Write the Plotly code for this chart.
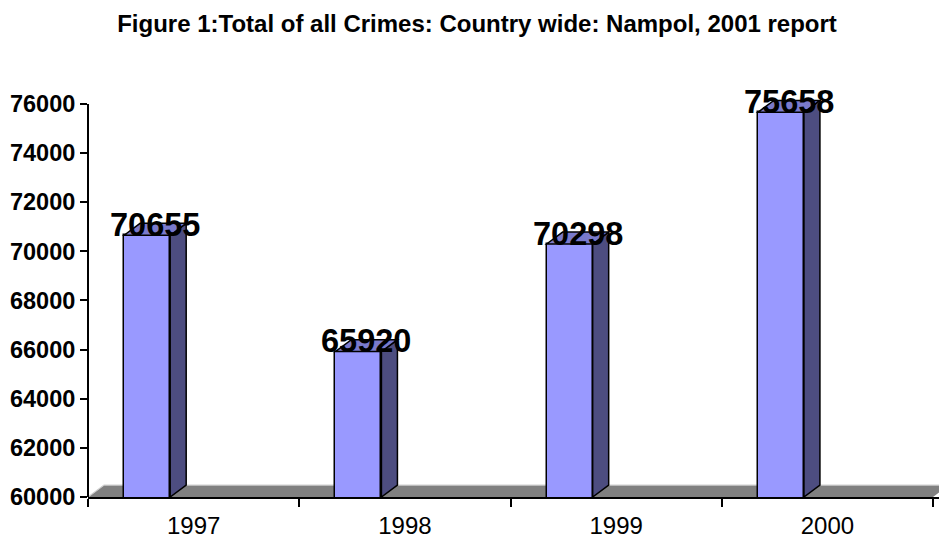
import plotly.graph_objects as go

years = ["1997", "1998", "1999", "2000"]
crimes = [70655, 65920, 70298, 75658]
y_ticks = [60000, 62000, 64000, 66000, 68000, 70000, 72000, 74000, 76000]
title_text = "Figure 1:Total of all Crimes: Country wide: Nampol, 2001 report"

FRONT = "#9999ff"
SIDE = "#4d4d80"
TOP = "#7a7acc"
FLOOR = "#808080"
FONT = "Liberation Sans, Arial, sans-serif"

W, H = 939, 539
ML, MR, MT, MB = 88, 0, 95, 39
px_per_x = 211.25
px_per_y = 24.75 / 1000.0
y0 = 60000
ymax = y0 + (H - MB - MT) / px_per_y
xmax = -0.5 + (W - ML - MR) / px_per_x

bar_off = -0.329
bar_w = 0.218
dx = 16 / px_per_x
dy = 12 / px_per_y

xs = list(range(len(years)))

fig = go.Figure()
fig.add_trace(go.Bar(
    x=xs, y=crimes, base=0, width=bar_w, offset=bar_off,
    marker=dict(color=FRONT, line=dict(color="black", width=1.5)),
    hoverinfo="skip", showlegend=False,
))

shapes = []
# floor
shapes.append(dict(
    type="path", xref="x", yref="y", layer="below",
    path=f"M -0.5,{y0} L 3.5,{y0} L {3.5+dx},{y0+dy} L {-0.5+dx},{y0+dy} Z",
    fillcolor=FLOOR, line=dict(width=0),
))
shapes.append(dict(
    type="path", xref="x", yref="y", layer="below",
    path=f"M -0.5,{y0} L {-0.5+dx},{y0+dy} L {3.5+dx},{y0+dy}",
    line=dict(color="#d0d0d0", width=1.2),
))
for i, v in zip(xs, crimes):
    xl = i + bar_off
    xr = xl + bar_w
    shapes.append(dict(
        type="path", xref="x", yref="y", layer="above",
        path=f"M {xr},{y0} L {xr+dx},{y0+dy} L {xr+dx},{v+dy} L {xr},{v} Z",
        fillcolor=SIDE, line=dict(color="black", width=1.5),
    ))
    shapes.append(dict(
        type="path", xref="x", yref="y", layer="above",
        path=f"M {xl},{v} L {xl+dx},{v+dy} L {xr+dx},{v+dy} L {xr},{v} Z",
        fillcolor=TOP, line=dict(color="black", width=1.5),
    ))
# y axis line
shapes.append(dict(
    type="line", xref="paper", yref="y", x0=0, x1=0, y0=y0, y1=y_ticks[-1],
    line=dict(color="black", width=2), layer="above",
))

annotations = []
for i, v in zip(xs, crimes):
    annotations.append(dict(
        x=i + bar_off + bar_w / 2 + dx / 2, y=v, xref="x", yref="y",
        text=str(v), showarrow=False, yanchor="middle", yshift=10.5,
        font=dict(family=FONT, size=32.5, color="black", weight="bold"),
    ))

fig.update_layout(
    width=W, height=H,
    margin=dict(l=ML, r=MR, t=MT, b=MB),
    paper_bgcolor="white", plot_bgcolor="white",
    title=dict(
        text=title_text, x=477 / W, xanchor="center", xref="container",
        y=1 - 23.5 / H, yanchor="middle", yref="container",
        font=dict(family=FONT, size=24, color="black", weight="bold"),
    ),
    xaxis=dict(
        range=[-0.5, xmax], tickvals=xs, ticktext=years, ticks="",
        showline=True, linecolor="black", linewidth=2, showgrid=False,
        zeroline=False, fixedrange=True, ticklabelstandoff=6,
        tickfont=dict(family=FONT, size=24, color="black"),
        minor=dict(tickvals=[-0.5, 0.5, 1.5, 2.5, 3.5], ticks="outside",
                   ticklen=8, tickwidth=2, tickcolor="black", showgrid=False),
    ),
    yaxis=dict(
        range=[y0, ymax], tickvals=y_ticks, ticktext=[str(t) for t in y_ticks],
        ticks="outside", ticklen=7, tickwidth=2, tickcolor="black",
        showline=False, showgrid=False, zeroline=False, fixedrange=True,
        tickfont=dict(family=FONT, size=23.5, color="black", weight="bold"),
    ),
    shapes=shapes,
    annotations=annotations,
    bargap=0,
)

fig.write_html(
    "out.html",
    config={"displayModeBar": False},
    post_script="document.body.style.margin='0';document.body.style.overflow='hidden';",
)
